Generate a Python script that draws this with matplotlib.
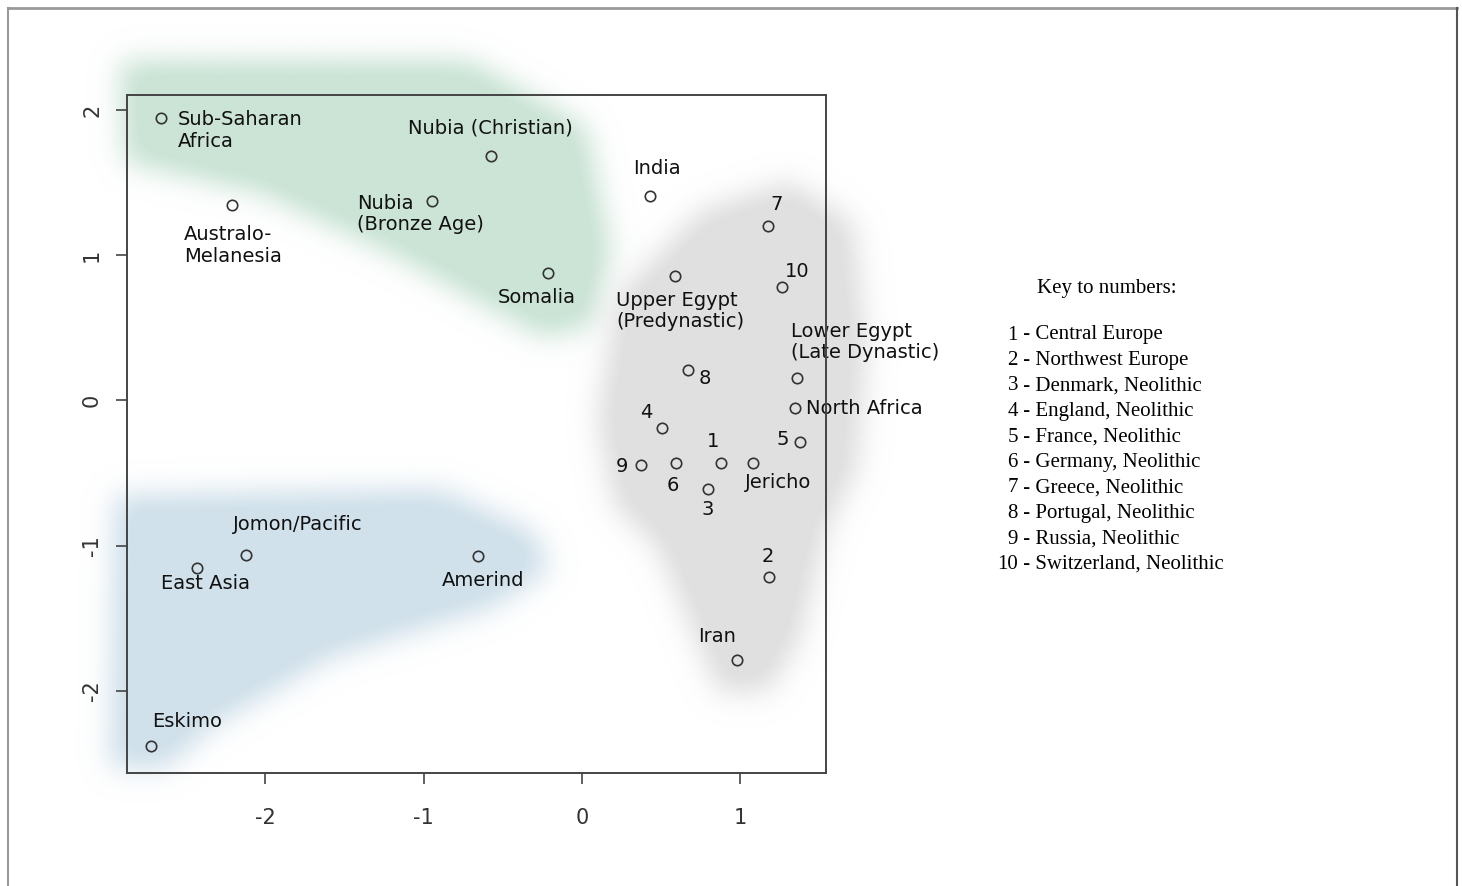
import numpy as np
import matplotlib
matplotlib.use("Agg")
import matplotlib.pyplot as plt
from matplotlib.path import Path
from matplotlib.lines import Line2D

# population means (first two components)
names = ["Sub-Saharan\nAfrica", "Australo-\nMelanesia", "Nubia (Christian)",
         "Nubia\n(Bronze Age)", "Somalia", "India", "Upper Egypt\n(Predynastic)",
         "7", "10", "Lower Egypt\n(Late Dynastic)", "8", "North Africa",
         "4", "5", "1", "9", "6", "Jericho", "3", "2", "Iran",
         "Jomon/Pacific", "East Asia", "Amerind", "Eskimo"]
xs = [-2.66, -2.21, -0.575, -0.947, -0.215, 0.429, 0.587,
      1.175, 1.263, 1.358, 0.669, 1.345,
      0.505, 1.377, 0.878, 0.373, 0.594, 1.080, 0.796, 1.181, 0.979,
      -2.122, -2.432, -0.657, -2.722]
ys = [1.945, 1.346, 1.680, 1.370, 0.878, 1.405, 0.854,
      1.202, 0.781, 0.155, 0.210, -0.052,
      -0.189, -0.286, -0.430, -0.444, -0.430, -0.430, -0.609, -1.215, -1.787,
      -1.064, -1.153, -1.071, -2.381]

# label offsets in pixels (dx, dy) and alignment
label_dx = [17, -48, -1, -75, -11, 7, -59, 9, 15, -6, 17, 11,
            -16, -17, -8, -19, -3, 25, 0, -1, -20, 52, 9, 5, 36]
label_dy = [-12.5, -40.5, 28, -12.5, -25, 28, -34.5, 21, 16, 36, -9, 0,
            15, 2, 21, -2, -23, -20, -21, 20, 23, 30, -16, -24, 25]
label_ha = ["left", "left", "center", "left", "center", "center", "left",
            "center", "center", "left", "center", "left",
            "center", "center", "center", "center", "center", "center",
            "center", "center", "center", "center", "center", "center", "center"]

key_nums = ["1", "2", "3", "4", "5", "6", "7", "8", "9", "10"]
key_names = ["Central Europe", "Northwest Europe", "Denmark, Neolithic",
             "England, Neolithic", "France, Neolithic", "Germany, Neolithic",
             "Greece, Neolithic", "Portugal, Neolithic", "Russia, Neolithic",
             "Switzerland, Neolithic"]

# outlines of the shaded clusters (data units)
green_x = [-2.92, -0.71, 0.02, 0.17, 0.07, -0.23, -0.64, -1.15, -2.03, -2.89]
green_y = [2.33, 2.33, 1.88, 1.04, 0.53, 0.43, 0.67, 0.98, 1.43, 1.64]
blue_x = [-2.95, -0.90, -0.31, -0.21, -0.58, -1.59, -2.35, -2.63, -2.98]
blue_y = [-0.66, -0.62, -0.91, -1.17, -1.43, -1.77, -2.25, -2.53, -2.53]
grey_x = [0.22, 0.75, 1.31, 1.71, 1.79, 1.73, 1.54, 1.37, 1.17, 0.86, 0.67, 0.47, 0.20, 0.10]
grey_y = [0.71, 1.30, 1.50, 1.22, 0.35, -0.48, -0.89, -1.65, -2.01, -2.01, -1.51, -1.00, -0.72, -0.13]

xlim = (-2.874, 1.541)
ylim = (-2.565, 2.103)

fig = plt.figure(figsize=(14.62, 8.86), dpi=100)
ax = fig.add_axes([127/1462, 1-773/886, (826-127)/1462, (773-95)/886])

# soft blobs
ext = (-3.4, 2.3, -3.0, 2.8)
nx, ny = 700, 700
gx = np.linspace(ext[0], ext[1], nx)
gy = np.linspace(ext[2], ext[3], ny)
GX, GY = np.meshgrid(gx, gy)
pts = np.column_stack([GX.ravel(), GY.ravel()])
px_x = 158.33 * (gx[1] - gx[0])
px_y = 145.25 * (gy[1] - gy[0])


def blur(m, sig_px):
    sx = sig_px / px_x
    sy = sig_px / px_y
    kx = np.exp(-0.5 * (np.arange(-int(3*sx), int(3*sx)+1) / sx) ** 2)
    ky = np.exp(-0.5 * (np.arange(-int(3*sy), int(3*sy)+1) / sy) ** 2)
    kx /= kx.sum()
    ky /= ky.sum()
    m = np.apply_along_axis(lambda r: np.convolve(r, kx, mode="same"), 1, m)
    m = np.apply_along_axis(lambda c: np.convolve(c, ky, mode="same"), 0, m)
    return m


for bx, by, col in [(green_x, green_y, "#cbe4d6"),
                    (blue_x, blue_y, "#d1e1eb"),
                    (grey_x, grey_y, "#e0e0e0")]:
    mask = Path(np.column_stack([bx, by])).contains_points(pts).reshape(ny, nx).astype(float)
    a = np.clip(blur(mask, 14) * 1.15, 0, 1)
    rgba = np.zeros((ny, nx, 4))
    rgba[..., :3] = matplotlib.colors.to_rgb(col)
    rgba[..., 3] = a
    im = ax.imshow(rgba, extent=ext, origin="lower", aspect="auto",
                   interpolation="bilinear", zorder=0)
    im.set_clip_on(False)

ax.plot(xs, ys, "o", ms=7.5, mfc="none", mec="#333333", mew=1.2, zorder=3)

for i, name in enumerate(names):
    ax.annotate(name, (xs[i], ys[i]), xytext=(label_dx[i]*0.72, label_dy[i]*0.72),
                textcoords="offset points", ha=label_ha[i], va="center",
                fontsize=14, color="#111111", family="DejaVu Sans",
                linespacing=1.15, zorder=4)

ax.set_xlim(xlim)
ax.set_ylim(ylim)
ax.set_xticks([-2, -1, 0, 1])
ax.set_xticklabels(["-2", "-1", "0", "1"])
ax.set_yticks([-2, -1, 0, 1, 2])
ax.set_yticklabels(["-2", "-1", "0", "1", "2"], rotation=90, va="center")
ax.tick_params(direction="out", length=8, width=1.2, colors="#444444",
               labelsize=15, labelcolor="#333333")
ax.tick_params(axis="x", pad=17)
ax.tick_params(axis="y", pad=10)
for s in ax.spines.values():
    s.set_color("#444444")
    s.set_linewidth(1.4)
    s.set_zorder(5)
ax.set_facecolor("none")

# key
fig.text(1107/1462, 1-289/886, "Key to numbers:", ha="center", va="center",
         fontsize=15, family="Liberation Serif")
for i in range(len(key_nums)):
    yk = 1 - (335 + 25.5*i)/886
    fig.text(1018/1462, yk, key_nums[i], ha="right", va="center",
             fontsize=15, family="Liberation Serif")
    fig.text(1018/1462, yk, " - " + key_names[i], ha="left", va="center",
             fontsize=15, family="Liberation Serif")

# page frame
fig.add_artist(Line2D([8/1462, 8/1462], [0, 1-8/886], color="#999999", lw=1.5))
fig.add_artist(Line2D([8/1462, 1457/1462], [1-8/886, 1-8/886], color="#999999", lw=2))
fig.add_artist(Line2D([1457/1462, 1457/1462], [0, 1-8/886], color="#555555", lw=1.5))

fig.savefig("out.png", dpi=100)
